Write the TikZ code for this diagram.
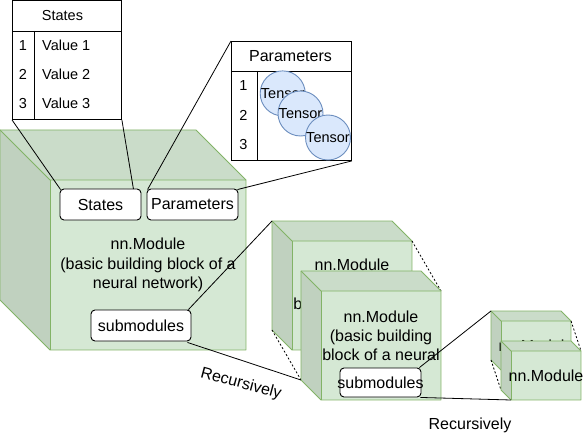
\documentclass[tikz,border=0pt]{standalone}
\usepackage{fontspec}
\setmainfont{Liberation Sans}
\usetikzlibrary{calc}
\definecolor{gfill}{HTML}{D5E8D4}
\definecolor{gline}{HTML}{82B366}
\definecolor{gtop}{HTML}{CADCC9}
\definecolor{gside}{HTML}{C0D1BF}
\definecolor{bfill}{HTML}{DAE8FC}
\definecolor{bline}{HTML}{6C8EBF}
\newcommand\mycube[5]{% x y w h d
  \fill[gfill] ({#1+#5},{#2+#5}) rectangle ({#1+#3},{#2+#4});
  \fill[gtop] (#1,#2) -- ({#1+#3-#5},#2) -- ({#1+#3},{#2+#5}) -- ({#1+#5},{#2+#5}) -- cycle;
  \fill[gside] (#1,#2) -- ({#1+#5},{#2+#5}) -- ({#1+#5},{#2+#4}) -- (#1,{#2+#4-#5}) -- cycle;
  \draw[cubeline] (#1,#2) -- ({#1+#3-#5},#2) -- ({#1+#3},{#2+#5}) -- ({#1+#3},{#2+#4}) -- ({#1+#5},{#2+#4}) -- (#1,{#2+#4-#5}) -- cycle;
  \draw[cubeline] (#1,#2) -- ({#1+#5},{#2+#5}) -- ({#1+#3},{#2+#5});
  \draw[cubeline] ({#1+#5},{#2+#5}) -- ({#1+#5},{#2+#4});
}
\tikzset{
  cubeline/.style={draw=gline, line width=0.9pt, line join=round},
  big/.style={font=\fontsize{16}{19.2}\selectfont, inner sep=0pt},
  small/.style={font=\fontsize{14.5}{17}\selectfont, inner sep=0pt},
  wbox/.style={draw=black, fill=white, rounded corners=4pt, line width=0.9pt, inner sep=0pt},
  tab/.style={draw=black, fill=white, line width=0.9pt, inner sep=0pt},
  conn/.style={draw=black, line width=0.8pt},
  dotline/.style={draw=black, line width=0.8pt, dash pattern=on 2pt off 2pt},
  tensor/.style={circle, draw=bline, fill=bfill, line width=0.9pt, minimum size=45pt, inner sep=0pt},
}
\begin{document}
\begin{tikzpicture}[x=1pt, y=-1pt]
\useasboundingbox (0,0) rectangle (584,441);

% big cube
\mycube{0}{130}{246}{220}{50}
\node[big, align=center] (bigtxt) at (148,265) {nn.Module\\(basic building block of a\\neural network)};
\node[wbox, minimum width=81pt, minimum height=31pt, big] (stbox) at (100.5,204.5) {States};
\node[wbox, minimum width=91pt, minimum height=31pt, big] (pabox) at (192.5,204.5) {Parameters};
\node[wbox, minimum width=100pt, minimum height=31pt, big] (subA) at (141,325.5) {submodules};

% States table
\node[tab, minimum width=109pt, minimum height=118.5pt, anchor=north west] (sttab) at (12,0.5) {};
\draw[line width=0.9pt] (12,31) -- (121,31);
\draw[line width=0.9pt] (34,31) -- (34,119);
\node[small] (sthead) at (62.5,16) {States};
\node[small] (sn1) at (23,45.5) {1};
\node[small] (sn2) at (23,74.5) {2};
\node[small] (sn3) at (23,103.5) {3};
\node[small, anchor=west] (sv1) at (42,45.5) {Value 1};
\node[small, anchor=west] (sv2) at (42,74.5) {Value 2};
\node[small, anchor=west] (sv3) at (42,103.5) {Value 3};

% Parameters table
\node[tab, minimum width=120pt, minimum height=119pt, anchor=north west] (patab) at (231,41) {};
\draw[line width=0.9pt] (231,71) -- (351,71);
\draw[line width=0.9pt] (257,71) -- (257,160);
\node[big] (pahead) at (290.5,56) {Parameters};
\node[small] (pn1) at (243.5,85.5) {1};
\node[small] (pn2) at (243.5,115.5) {2};
\node[small] (pn3) at (243.5,145) {3};
\node[tensor] (t1) at (282.7,93.4) {};
\node[small] (t1txt) at (282.7,93.4) {Tensor};
\node[tensor] (t2) at (300.5,113.5) {};
\node[small] (t2txt) at (300.5,113.5) {Tensor};
\node[tensor] (t3) at (328,137.5) {};
\node[small] (t3txt) at (328,137.5) {Tensor};

% table connectors
\draw[conn] (sttab.south west) -- ($(stbox.north west)+(1,1)$);
\draw[conn] (sttab.south east) -- ($(stbox.north east)+(-8,0.5)$);
\draw[conn] (patab.north west) -- ($(pabox.north west)+(1,1)$);
\draw[conn] (patab.south east) -- ($(pabox.north east)+(-1,1)$);

% middle cubes
\coordinate (mbTL) at (272,221);
\coordinate (mbBL) at (272,330);
\coordinate (mbTR) at (412,241);
\coordinate (mfBL) at (301,380);
\coordinate (mfTR) at (441,291);
\mycube{272}{221}{140}{129}{20}
\node[big, align=center] (mbtxt) at (352,295.5) {nn.Module\\(basic building\\block of a neural\\network)};
\draw[dotline] (mbBL) -- (mfBL);
\draw[dotline] (mbTR) -- (mfTR);
\mycube{301}{271}{140}{129}{20}
\node[big, align=center] (mftxt) at (381,336) {nn.Module\\(basic building\\block of a neural};
\node[wbox, minimum width=81pt, minimum height=29pt] (subB) at (380.5,382.5) {};
\node[big] (subBtxt) at (380.5,382.5) {submodules};

\draw[conn] ($(subA.north east)+(-3,0)$) -- (mbTL);
\draw[conn] ($(subA.south east)+(-4,1)$) -- (mfBL);
\node[big, rotate=-15] (rec1) at (241,384) {Recursively};

% small cubes
\coordinate (sbTL) at (491,311);
\coordinate (sbBL) at (491,360);
\coordinate (sbTR) at (571,321);
\coordinate (sfBL) at (501,390);
\coordinate (sfTR) at (581,351);
\coordinate (sfFB) at (511,400);
\mycube{491}{311}{80}{59}{10}
\node[big] (sbtxt) at (536,345.5) {nn.Module};
\draw[dotline] (sbBL) -- (sfBL);
\draw[dotline] (sbTR) -- (sfTR);
\mycube{501}{341}{80}{59}{10}
\node[big] (sftxt) at (546,375.5) {nn.Module};

\draw[conn] ($(subB.north east)+(-2,0)$) -- (sbTL);
\draw[conn] ($(subB.south east)+(-1,0)$) -- (sfFB);
\node[big] (rec2) at (470,425) {Recursively};
\end{tikzpicture}
\end{document}
